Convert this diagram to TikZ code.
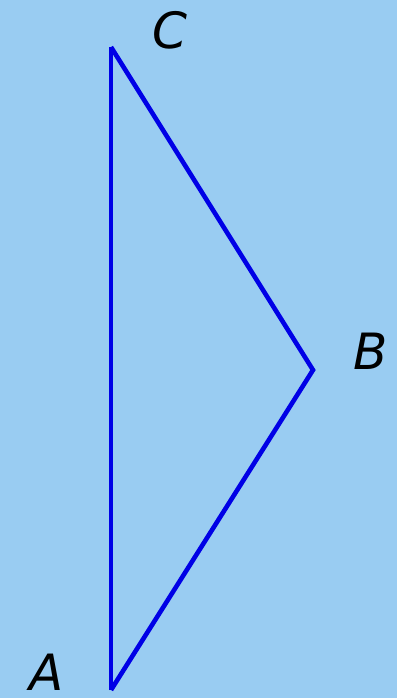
\documentclass[tikz,border=0pt]{standalone}
\usepackage{fontspec}
\setmainfont{DejaVu Sans}
\definecolor{skyback}{RGB}{153,204,242}
\definecolor{sideblue}{RGB}{0,0,230}
\tikzset{
  side/.style={draw=sideblue, line width=4.6pt},
  vlabel/.style={inner sep=0pt, font=\fontsize{50}{50}\selectfont\itshape}
}
\begin{document}
\begin{tikzpicture}[x=1pt, y=-1pt]
        \fill[skyback] (0,0) rectangle (397,698);
        \useasboundingbox (0,0) rectangle (397,698);
        \coordinate (A) at (111,690);
        \coordinate (B) at (313,370);
        \coordinate (C) at (111,47);
        \node[vlabel] (labA) at (47,672) {A};
        \node[vlabel] (labB) at (371,351) {B};
        \node[vlabel] (labC) at (170,30) {C};
        \draw[side] (A) -- (C);
        \draw[side] (C) -- (B) -- (A);
    \end{tikzpicture}
\end{document}
